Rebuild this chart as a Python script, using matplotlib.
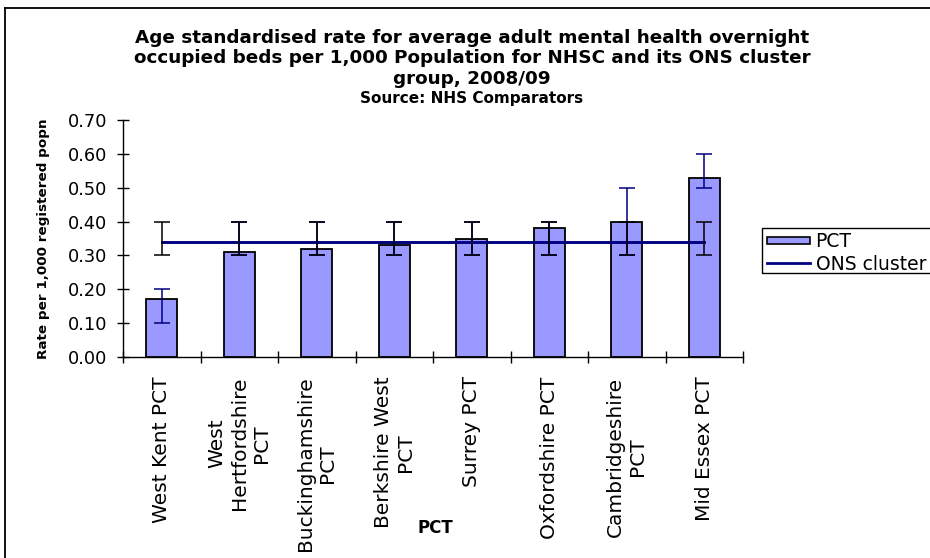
import matplotlib
matplotlib.use("Agg")
import matplotlib.pyplot as plt
from matplotlib.patches import Rectangle
from matplotlib.lines import Line2D
from matplotlib.legend_handler import HandlerPatch

# PCT names (wrapped as they appear on the category axis)
categories = [
    "West Kent PCT",
    "West\nHertfordshire\nPCT",
    "Buckinghamshire\nPCT",
    "Berkshire West\nPCT",
    "Surrey PCT",
    "Oxfordshire PCT",
    "Cambridgeshire\nPCT",
    "Mid Essex PCT",
]

# Age standardised rate per 1,000 registered population
pct_rate = [0.17, 0.31, 0.32, 0.33, 0.35, 0.38, 0.40, 0.53]
pct_low = [0.10, 0.30, 0.30, 0.30, 0.30, 0.30, 0.30, 0.50]
pct_high = [0.20, 0.40, 0.40, 0.40, 0.40, 0.40, 0.50, 0.60]

# ONS cluster average with its interval
cluster_rate = [0.34] * 8
cluster_low = [0.30] * 8
cluster_high = [0.40] * 8

yticks = [0.0, 0.1, 0.2, 0.3, 0.4, 0.5, 0.6, 0.7]

W, H = 930, 558
fig = plt.figure(figsize=(W / 100, H / 100), dpi=100)
fig.patch.set_facecolor("white")

ax = fig.add_axes([123 / W, 1 - 357 / H, 620 / W, 237 / H])

x = list(range(len(categories)))
bar_color = "#9999FF"
navy = "#000080"

ax.bar(x, pct_rate, width=0.4, color=bar_color, edgecolor="black",
       linewidth=1.3, zorder=2, label="PCT")
ax.errorbar(x, pct_rate,
            yerr=[[r - l for r, l in zip(pct_rate, pct_low)],
                  [h - r for r, h in zip(pct_rate, pct_high)]],
            fmt="none", ecolor=navy, elinewidth=1.1, capsize=6,
            capthick=1.1, zorder=3)

ax.plot(x, cluster_rate, color=navy, linewidth=2.1, zorder=4,
        label="ONS cluster")
ax.errorbar(x, cluster_rate,
            yerr=[[r - l for r, l in zip(cluster_rate, cluster_low)],
                  [h - r for r, h in zip(cluster_rate, cluster_high)]],
            fmt="none", ecolor="black", elinewidth=1.1, capsize=6,
            capthick=1.1, zorder=5)

ax.set_xlim(-0.5, len(categories) - 0.5)
ax.set_ylim(0, 0.7)
ax.set_yticks(yticks)
ax.set_yticklabels([f"{v:.2f}" for v in yticks], fontsize=12.8)

# category ticks sit on the boundaries, labels in the middle
ax.set_xticks([i - 0.5 for i in range(len(categories) + 1)])
ax.set_xticklabels([])
ax.set_xticks(x, minor=True)
ax.set_xticklabels(categories, minor=True, rotation=90, fontsize=14.5,
                   ha="center", va="top", multialignment="center")
ax.tick_params(axis="x", which="minor", length=0, pad=14)
ax.tick_params(axis="both", which="major", direction="inout", length=9,
               width=1, color="black")
ax.tick_params(axis="y", pad=7)

for side in ("top", "right"):
    ax.spines[side].set_visible(False)
for side in ("left", "bottom"):
    ax.spines[side].set_linewidth(1.0)
    ax.spines[side].set_color("black")

ax.set_ylabel("Rate per 1,000 registered popn", fontsize=9.7,
              fontweight="bold")
ax.yaxis.set_label_coords(-0.117, 0.5)
fig.text(435 / W, 1 - 528 / H, "PCT", ha="center", va="center",
         fontsize=12, fontweight="bold")

fig.text(472 / W, 1 - 29 / H,
         "Age standardised rate for average adult mental health overnight\n"
         "occupied beds per 1,000 Population for NHSC and its ONS cluster\n"
         "group, 2008/09",
         ha="center", va="top", fontsize=13.2, fontweight="bold",
         linespacing=1.17)
fig.text(472 / W, 1 - 98 / H, "Source: NHS Comparators", ha="center",
         va="center", fontsize=11, fontweight="bold")


def small_box(legend, orig_handle, xdescent, ydescent, width, height,
              fontsize):
    return Rectangle((-xdescent, -ydescent + height * 0.2), width,
                     height * 0.55)


fig.legend(handles=[
    Rectangle((0, 0), 1, 1, facecolor=bar_color, edgecolor="black",
              linewidth=1.2, label="PCT"),
    Line2D([0], [0], color=navy, linewidth=2, label="ONS cluster"),
], loc="upper left", bbox_to_anchor=(764 / W, 1 - 229 / H), fontsize=13.5,
    frameon=False, handlelength=2.3, handletextpad=0.3, borderpad=0.15,
    labelspacing=0.2, borderaxespad=0,
    handler_map={Rectangle: HandlerPatch(patch_func=small_box)})

# legend box, running past the right edge of the chart area
fig.add_artist(Rectangle((762 / W, 1 - 273 / H), 200 / W, 45 / H,
                         transform=fig.transFigure, facecolor="none",
                         edgecolor="black", linewidth=1.0))

# outer chart frame (left and top edges fall inside the picture)
fig.add_artist(Line2D([5 / W, 5 / W], [0, 1 - 8 / H], transform=fig.transFigure,
                      color="black", linewidth=1.3))
fig.add_artist(Line2D([5 / W, 1], [1 - 8 / H, 1 - 8 / H],
                      transform=fig.transFigure, color="black", linewidth=1.3))

fig.savefig("out.png", dpi=100, facecolor="white")
